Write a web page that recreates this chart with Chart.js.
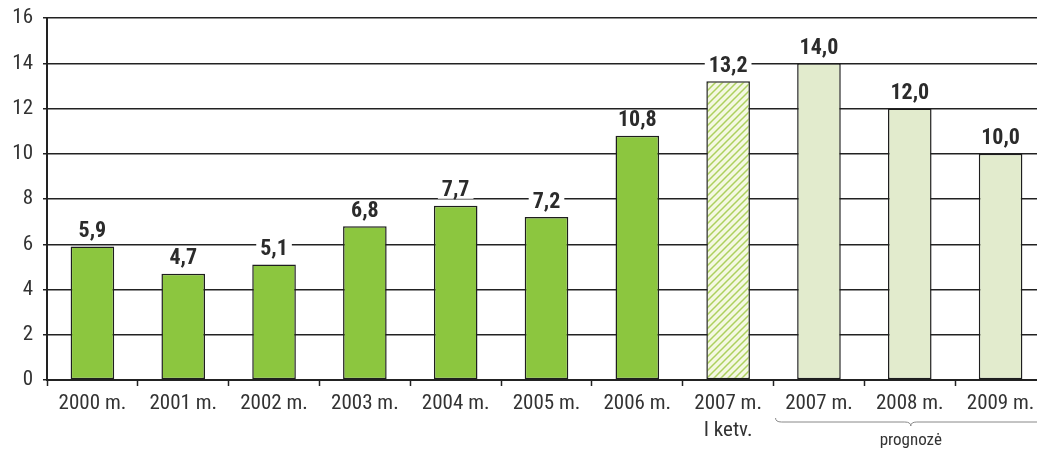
<!DOCTYPE html>
<html>
<head>
<meta charset="utf-8">
<script src="https://cdn.jsdelivr.net/npm/chart.js@4.4.0/dist/chart.umd.min.js"></script>
<style>
  html, body { margin: 0; padding: 0; background: #fff; overflow: hidden; }
  #wrap { width: 1037px; height: 449px; overflow: hidden; }
</style>
</head>
<body>
<div id="wrap"><canvas id="chart" width="1046" height="449"></canvas></div>
<script>
// chart data
const years = [['2000 m.'], ['2001 m.'], ['2002 m.'], ['2003 m.'], ['2004 m.'], ['2005 m.'],
  ['2006 m.'], ['2007 m.', 'I ketv.'], ['2007 m.'], ['2008 m.'], ['2009 m.']];
const values = [5.9, 4.7, 5.1, 6.8, 7.7, 7.2, 10.8, 13.2, 14.0, 12.0, 10.0];
const yTicks = [0, 2, 4, 6, 8, 10, 12, 14, 16];
const forecastNote = 'prognozė';
const forecastFrom = 8; // index of first forecast bar

const FONT = '"Roboto Condensed", "Liberation Sans Narrow", sans-serif';

// diagonal hatch for the 1st quarter bar
function makeHatch() {
    const c = document.createElement('canvas');
    c.width = 7; c.height = 7;
    const g = c.getContext('2d');
    g.fillStyle = '#f4f8e2';
    g.fillRect(0, 0, 7, 7);
    g.strokeStyle = '#add05f';
    g.lineWidth = 1.5;
    g.beginPath();
    g.moveTo(-2, 9); g.lineTo(9, -2);
    g.moveTo(-2, 2); g.lineTo(2, -2);
    g.moveTo(5, 9); g.lineTo(9, 5);
    g.stroke();
    return g.createPattern(c, 'repeat');
}
const hatch = makeHatch();

const colors = values.map((v, i) => {
    if (i < 7) return '#8cc63f';
    if (i === 7) return hatch;
    return '#e2ebcd';
});

// value labels above bars, white box breaks the gridlines
const valueLabels = {
    id: 'valueLabels',
    afterDatasetsDraw(chart) {
        const ctx = chart.ctx;
        const meta = chart.getDatasetMeta(0);
        ctx.save();
        ctx.font = 'bold 22px ' + FONT;
        ctx.textAlign = 'center';
        ctx.textBaseline = 'middle';
        meta.data.forEach((bar, i) => {
            const txt = values[i].toFixed(1).replace('.', ',');
            const w = ctx.measureText(txt).width;
            const y = bar.y - 16;
            ctx.fillStyle = '#fff';
            ctx.fillRect(bar.x - w / 2 - 4, y - 9, w + 8, 18);
            ctx.fillStyle = '#2b2b2b';
            ctx.fillText(txt, bar.x, y + 1);
        });
        ctx.restore();
    }
};

// brace under the forecast years
const forecastBrace = {
    id: 'forecastBrace',
    afterDraw(chart) {
        const ctx = chart.ctx;
        const x = chart.scales.x;
        const step = x.getPixelForValue(1) - x.getPixelForValue(0);
        const x0 = x.getPixelForValue(forecastFrom) - step / 2 + 2;
        const x1 = x.getPixelForValue(values.length - 1) + step / 2;
        const mid = (x0 + x1) / 2;
        const y = 422;
        ctx.save();
        ctx.strokeStyle = '#888';
        ctx.lineWidth = 1;
        ctx.beginPath();
        ctx.moveTo(x0, y - 4);
        ctx.quadraticCurveTo(x0, y, x0 + 6, y);
        ctx.lineTo(mid - 6, y);
        ctx.quadraticCurveTo(mid, y, mid, y + 4);
        ctx.quadraticCurveTo(mid, y, mid + 6, y);
        ctx.lineTo(x1 - 6, y);
        ctx.quadraticCurveTo(x1, y, x1, y - 4);
        ctx.stroke();
        ctx.fillStyle = '#333';
        ctx.font = '17px ' + FONT;
        ctx.textAlign = 'center';
        ctx.textBaseline = 'middle';
        ctx.fillText(forecastNote, mid, 441);
        ctx.restore();
    }
};

const ctx = document.getElementById('chart').getContext('2d');
const chart = new Chart(ctx, {
    type: 'bar',
    data: {
        labels: years,
        datasets: [{
            data: values,
            backgroundColor: colors,
            borderColor: '#1e1e1e',
            borderWidth: 1.5,
            borderSkipped: false,
            categoryPercentage: 1,
            barPercentage: 0.48
        }]
    },
    options: {
        responsive: false,
        animation: false,
        layout: { padding: { top: 18, right: 0, bottom: 0, left: 0 } },
        plugins: {
            legend: { display: false },
            tooltip: { enabled: false }
        },
        scales: {
            x: {
                offset: true,
                grid: {
                    offset: true,
                    drawOnChartArea: false,
                    drawTicks: true,
                    tickLength: 6,
                    tickWidth: 1.5,
                    tickColor: '#222'
                },
                border: { color: '#222', width: 2 },
                ticks: {
                    color: '#333',
                    font: { family: FONT, size: 21, lineHeight: 1.25 },
                    padding: 5,
                    maxRotation: 0,
                    autoSkip: false
                },
                afterFit(scale) {
                    scale.height = 69;
                    scale.paddingLeft = 0;
                    scale.paddingRight = 0;
                }
            },
            y: {
                min: 0,
                max: 16,
                afterBuildTicks(scale) {
                    scale.ticks = yTicks.map(v => ({ value: v }));
                },
                grid: {
                    color: '#222',
                    lineWidth: 1.5,
                    tickLength: 4,
                    tickColor: '#222'
                },
                border: { color: '#222', width: 2 },
                ticks: {
                    color: '#333',
                    font: { family: FONT, size: 21 },
                    padding: 10
                },
                afterFit(scale) {
                    scale.width = 47;
                    scale.paddingTop = 0;
                    scale.paddingBottom = 0;
                }
            }
        }
    },
    plugins: [valueLabels, forecastBrace]
});
</script>
</body>
</html>
